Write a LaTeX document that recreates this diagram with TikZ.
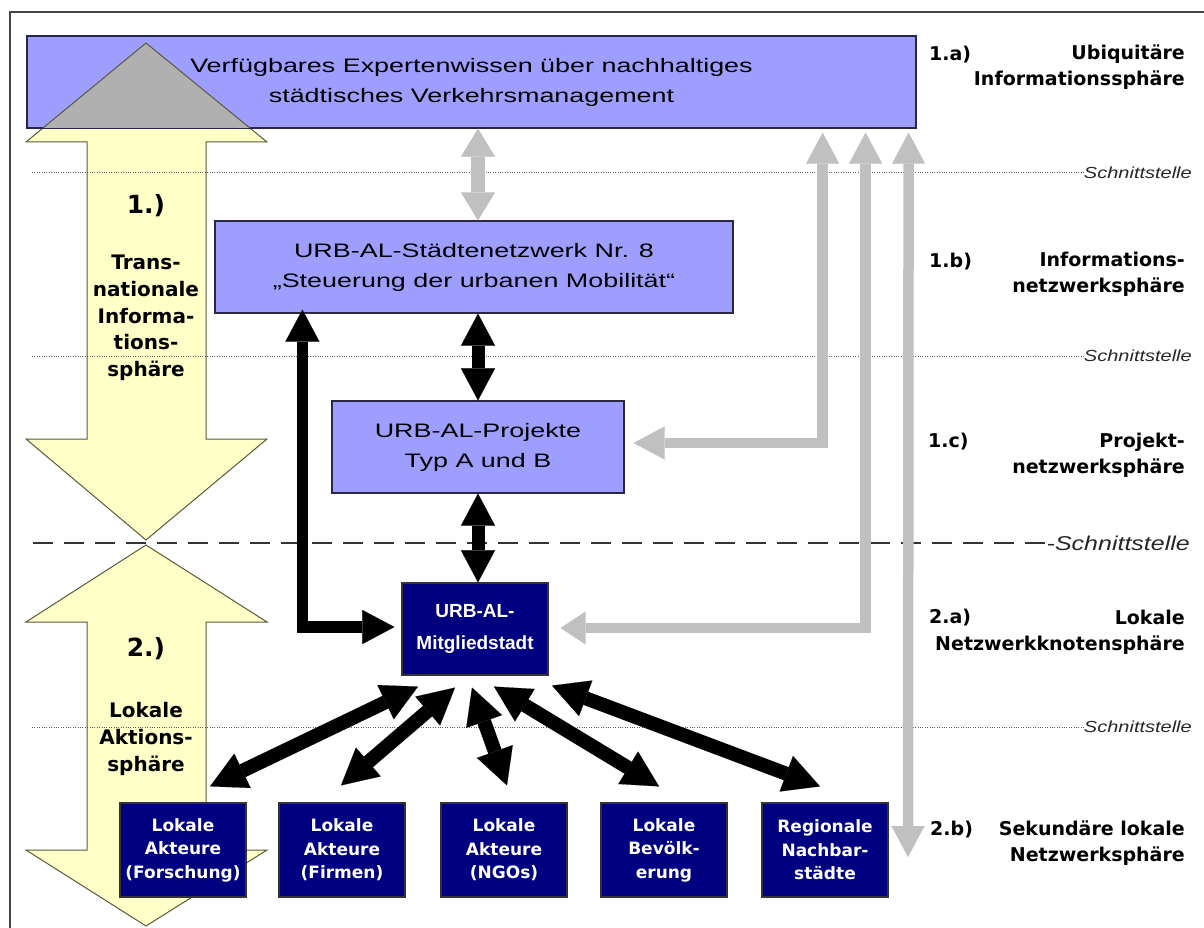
\documentclass[tikz,border=0pt]{standalone}
\usepackage{fontspec}
\setmainfont{Liberation Sans}
\newfontfamily\boxfont[FakeStretch=1.38]{Liberation Sans}
\newfontfamily\lblfont{DejaVu Sans}
\newfontfamily\cityfont{Liberation Sans}
\newfontfamily\schfont[FakeStretch=1.25]{Liberation Sans}
\usetikzlibrary{arrows.meta,calc}
\definecolor{lav}{RGB}{158,158,255}
\definecolor{navybox}{RGB}{0,0,128}
\definecolor{yel}{RGB}{255,255,200}
\definecolor{yelline}{RGB}{90,90,60}
\definecolor{ovl}{RGB}{176,176,176}
\definecolor{garr}{RGB}{192,192,192}
\definecolor{boxline}{RGB}{40,40,70}
\definecolor{framecol}{RGB}{70,70,70}
\tikzset{
  bh/.tip={Triangle[width=34pt,length=32pt,line width=0.1pt]},
  gh/.tip={Triangle[width=33pt,length=31pt,line width=0.1pt]},
  gs/.tip={Triangle[width=33pt,length=25pt,line width=0.1pt]},
  gz/.tip={Triangle[width=34pt,length=28pt,line width=0.1pt]},
  fh/.tip={Triangle[width=38pt,length=36pt,line width=0.1pt]},
}
\begin{document}
\begin{tikzpicture}[x=1pt,y=-1pt,
  lavbox/.style={draw=boxline, line width=1.2pt, fill=lav, inner sep=0pt, align=center,
    font=\boxfont\fontsize{19.5}{30}\selectfont},
  navy/.style={draw=black!80, line width=1.2pt, fill=navybox, text=white, inner sep=0pt, align=center},
  nbox/.style={navy, minimum width=126pt, minimum height=94pt,
    font=\lblfont\bfseries\fontsize{17}{23.5}\selectfont},
  lbl/.style={font=\lblfont\bfseries\fontsize{19}{26}\selectfont, inner sep=0pt},
  ytxt/.style={font=\lblfont\bfseries\fontsize{20}{26.7}\selectfont, align=center, inner sep=0pt},
  ynum/.style={font=\lblfont\bfseries\fontsize{25}{30}\selectfont, inner sep=0pt},
  schn/.style={font=\schfont\itshape\fontsize{16}{18}\selectfont, text=black!85, inner sep=0pt, anchor=east},
  dotline/.style={draw=black!65, line width=1pt, dash pattern=on 1pt off 1.4pt},
  dashline/.style={draw=black!80, line width=2.5pt, dash pattern=on 20pt off 11pt},
  yarrow/.style={draw=yelline, line width=1pt, fill=yel, line join=miter},
  barrow/.style={draw=black, line width=13pt, line join=miter, arrows={bh-bh}},
  larrow/.style={draw=black, line width=11.5pt, line join=miter, arrows={bh-bh}},
  garrow/.style={draw=garr, line width=10.5pt, line join=miter},
  farrow/.style={draw=black, line width=14pt, arrows={fh-fh}},
]
\useasboundingbox (0,0) rectangle (1204,928);
% frame
\draw[draw=framecol, line width=1.5pt] (10,928) -- (10,12) -- (1204,12);

% yellow double arrows
\def\yA{(146,43) -- (267,142) -- (206,142) -- (206,439) -- (267,439) -- (146,540) -- (26,439) -- (87,439) -- (87,142) -- (26,142) -- cycle}
\draw[yarrow] \yA;
\draw[yarrow] (146,545) -- (267,622) -- (206,622) -- (206,850) -- (267,850) -- (146,926) -- (26,850) -- (87,850) -- (87,622) -- (26,622) -- cycle;

% interface lines
\node[schn] (s1) at (1192,173) {Schnittstelle};
\node[schn] (s2) at (1192,356) {Schnittstelle};
\node[schn, font=\schfont\itshape\fontsize{20}{22}\selectfont] (s3) at (1190,543) {-Schnittstelle};
\node[schn] (s4) at (1192,727) {Schnittstelle};
\draw[dotline] (32,173) -- (s1.west);
\draw[dotline] (32,356) -- (s2.west);
\draw[dashline] (33,543) -- (s3.west);
\draw[dotline] (32,727) -- (s4.west);

% yellow arrow texts
\node[ynum] (n1) at (146,206) {1.)};
\node[ytxt] (t1) at (146,318) {Trans-\\nationale\\Informa-\\tions-\\sphäre};
\node[ynum] (n2) at (146,649) {2.)};
\node[ytxt] (t2) at (146,739) {Lokale\\Aktions-\\sphäre};

% top box with grey overlay of arrow tip
\node[lavbox, minimum width=889pt, minimum height=92pt] (top) at (471.5,82)
  {Verfügbares Expertenwissen über nachhaltiges\\städtisches Verkehrsmanagement};
\begin{scope}
  \clip (top.south west) rectangle (top.north east);
  \draw[draw=yelline, line width=1pt, fill=ovl] \yA;
\end{scope}
\draw[draw=boxline, line width=1.2pt] (top.south west) rectangle (top.north east);

% other boxes
\node[lavbox, minimum width=518pt, minimum height=92pt] (stn) at (474,267)
  {URB-AL-Städtenetzwerk Nr. 8\\„Steuerung der urbanen Mobilität“};
\node[lavbox, minimum width=292pt, minimum height=92pt] (proj) at (478,447)
  {URB-AL-Projekte\\Typ A und B};
\node[navy, minimum width=146pt, minimum height=92pt,
  font=\cityfont\bfseries\fontsize{19}{32}\selectfont] (city) at (475,629)
  {URB-AL-\\Mitgliedstadt};
\node[nbox] (b1) at (183,850) {Lokale\\Akteure\\(Forschung)};
\node[nbox] (b2) at (342,850) {Lokale\\Akteure\\(Firmen)};
\node[nbox] (b3) at (504,850) {Lokale\\Akteure\\(NGOs)};
\node[nbox] (b4) at (664,850) {Lokale\\Bevölk-\\erung};
\node[nbox] (b5) at (825,850) {Regionale\\Nachbar-\\städte};

% right-hand labels
\node[lbl, anchor=west] (na) at (929,55) {1.a)};
\node[lbl, anchor=east, align=right] (la) at (1185,67.5) {Ubiquitäre\\Informationssphäre};
\node[lbl, anchor=west] (nb) at (929,262) {1.b)};
\node[lbl, anchor=east, align=right] (lb) at (1185,274.5) {Informations-\\netzwerksphäre};
\node[lbl, anchor=west] (nc) at (928,442) {1.c)};
\node[lbl, anchor=east, align=right] (lc) at (1185,455) {Projekt-\\netzwerksphäre};
\node[lbl, anchor=west] (nd) at (929,618) {2.a)};
\node[lbl, anchor=east, align=right] (ld) at (1185,632.5) {Lokale\\Netzwerkknotensphäre};
\node[lbl, anchor=west] (ne) at (930,830) {2.b)};
\node[lbl, anchor=east, align=right] (le) at (1185,843.5) {Sekundäre lokale\\Netzwerksphäre};

% grey connectors
\coordinate (g3end) at (908,857);
\draw[garrow, line width=14pt, arrows={gz-gz}] (proj.north |- top.south) -- (proj.north |- stn.north);
\draw[garrow, arrows={gh-gh}] ($(top.south east)+(-94,4)$) |- ($(proj.east)+(9,-4)$);
\draw[garrow, arrows={gh-gs}] ($(top.south east)+(-51,4)$) |- ($(city.east)+(12,-1)$);
\draw[garrow, arrows={gh-gh}] ($(top.south east)+(-8,4)$) -- (g3end);

% black connectors
\draw[larrow] ($(stn.south west)+(88,-4)$) |- ($(city.west)+(-7,-2)$);
\draw[barrow] (proj.north |- stn.south) -- (proj.north);
\draw[barrow] (proj.south) -- (proj.south |- city.north);

% fan of double arrows
\draw[farrow] ($(city.south)+(-57,11)$) -- ($(b1.north)+(27,-16)$);
\draw[farrow] ($(city.south)+(-20,12)$) -- ($(b2.north)+(-1,-17)$);
\draw[farrow] ($(city.south)+(-3,12)$) -- ($(b3.north)+(3,-17)$);
\draw[farrow] ($(city.south)+(19,11)$) -- ($(b4.north)+(-5,-16)$);
\draw[farrow] ($(city.south)+(77,10)$) -- ($(b5.north)+(-5,-16)$);
\end{tikzpicture}
\end{document}
